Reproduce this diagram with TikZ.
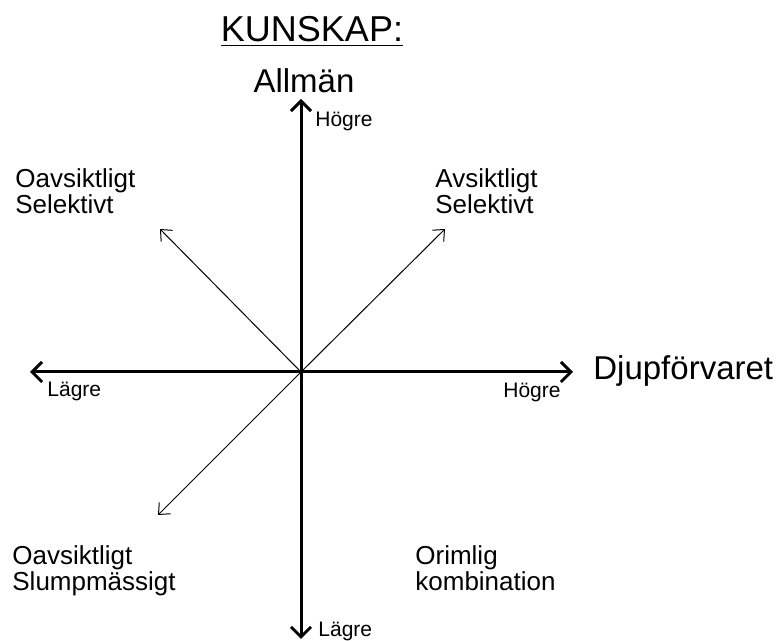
\documentclass[tikz,border=0pt]{standalone}
\usepackage{fontspec}
\setmainfont{Liberation Sans}
\usetikzlibrary{arrows.meta}

\begin{document}
\begin{tikzpicture}[x=0.5pt, y=-0.5pt,
    axis/.style={line width=1.5pt, -{Straight Barb[length=5pt,width=10pt]}},
    diag/.style={line width=0.5pt, -{Straight Barb[length=4.5pt,width=8pt]}},
    corner/.style={font=\fontsize{13pt}{13pt}\selectfont, align=left, inner sep=0pt, anchor=north west},
    big/.style={font=\fontsize{16.5pt}{18pt}\selectfont, inner sep=0pt},
    small/.style={font=\fontsize{10.5pt}{12pt}\selectfont, inner sep=0pt, anchor=base west}]
    \useasboundingbox (0,0) rectangle (778,641);

    \coordinate (O) at (301,372);
    \coordinate (N) at (301,99);
    \coordinate (S) at (301,639);
    \coordinate (W) at (30,372);
    \coordinate (E) at (573,372);
    \coordinate (NE) at (445,229);
    \coordinate (NW) at (160,229);
    \coordinate (SW) at (158,515);

    \node[font=\fontsize{18pt}{20pt}\selectfont, inner sep=0pt, anchor=base] (T) at (312,42) {\underline{KUNSKAP:}};
    \node[big, anchor=base] (A) at (304,93) {Allmän};
    \node[big, anchor=base west] (D) at (593,380) {Djupförvaret};

    \node[small] (hN) at (315,127) {Högre};
    \node[small] (hE) at (503,398) {Högre};
    \node[small] (lW) at (47,397) {Lägre};
    \node[small] (lS) at (318,637) {Lägre};

    \node[corner] (TL) at (15,168) {Oavsiktligt\\Selektivt};
    \node[corner] (TR) at (435,168) {Avsiktligt\\Selektivt};
    \node[corner] (BL) at (12,545) {Oavsiktligt\\Slumpmässigt};
    \node[corner] (BR) at (415,545) {Orimlig\\kombination};

    \draw[axis] (O) -- (N);
    \draw[axis] (O) -- (S);
    \draw[axis] (O) -- (W);
    \draw[axis] (O) -- (E);

    \draw[diag] (O) -- (NE);
    \draw[diag] (O) -- (NW);
    \draw[diag] (O) -- (SW);
\end{tikzpicture}
\end{document}
